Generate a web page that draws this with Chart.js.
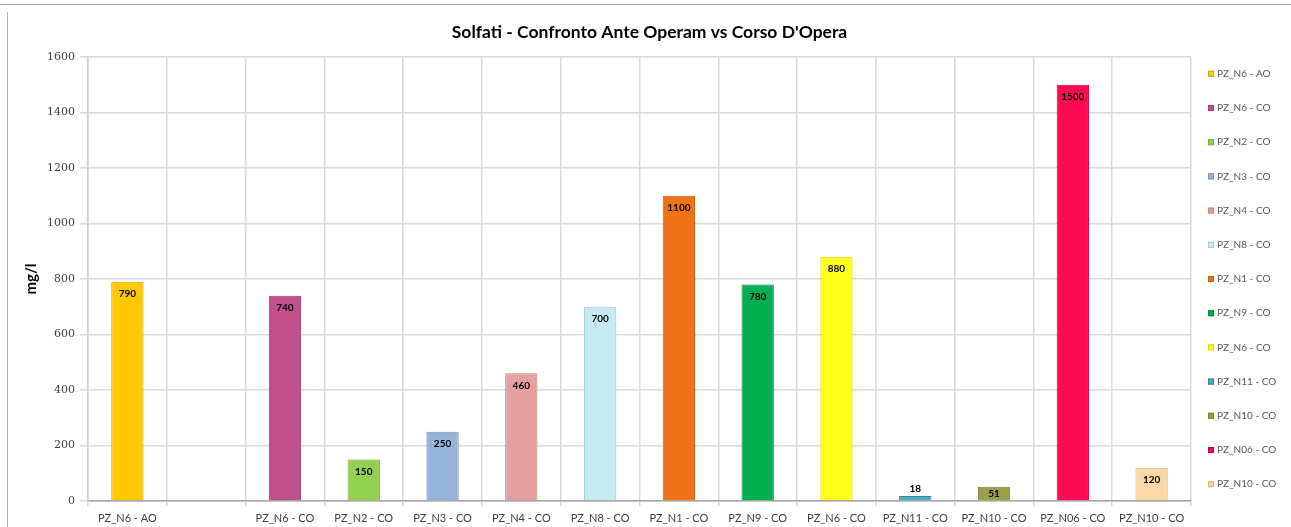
<!DOCTYPE html>
<html lang="it">
<head>
<meta charset="utf-8">
<title>Solfati - Confronto Ante Operam vs Corso D'Opera</title>
<script src="https://cdn.jsdelivr.net/npm/chart.js@4.4.1/dist/chart.umd.min.js"></script>
<style>
  body { margin: 0; background: #fff; }
  #bordoSopra { position: absolute; left: 0; top: 4px; width: 1291px; border-top: 1px solid #a6a6a6; }
  #contenitore { position: absolute; left: 7px; top: 12px; width: 1283px; height: 515px; border-left: 1px solid #b0b0b0; }
</style>
</head>
<body>
<div id="bordoSopra"></div>
<div id="contenitore"><canvas id="graficoSolfati" width="1283" height="515"></canvas></div>
<script>
const ctx = document.getElementById('graficoSolfati').getContext('2d');

// Categorie sull'asse X (la seconda è vuota come nell'originale)
const categorie = [
  'PZ_N6 - AO', '', 'PZ_N6 - CO', 'PZ_N2 - CO', 'PZ_N3 - CO', 'PZ_N4 - CO', 'PZ_N8 - CO',
  'PZ_N1 - CO', 'PZ_N9 - CO', 'PZ_N6 - CO', 'PZ_N11 - CO', 'PZ_N10 - CO', 'PZ_N06 - CO', 'PZ_N10 - CO'
];

// Solfati in mg/l, uno per categoria
const valori = [790, null, 740, 150, 250, 460, 700, 1100, 780, 880, 18, 51, 1500, 120];

// Serie della legenda e loro colori
const serie = [
  'PZ_N6 - AO', 'PZ_N6 - CO', 'PZ_N2 - CO', 'PZ_N3 - CO', 'PZ_N4 - CO', 'PZ_N8 - CO', 'PZ_N1 - CO',
  'PZ_N9 - CO', 'PZ_N6 - CO', 'PZ_N11 - CO', 'PZ_N10 - CO', 'PZ_N06 - CO', 'PZ_N10 - CO'
];
const colori = [
  '#FFC800', '#C2508F', '#92D050', '#95B3D7', '#E6A09E', '#C6E9F3', '#F07214',
  '#00B050', '#FFFF1E', '#4BACC6', '#9B9F4A', '#FF0A54', '#FBD8A4'
];
const bordi = [
  '#D9A800', '#9C3A70', '#76B03A', '#7393BA', '#C88480', '#A5CAD6', '#C95A0A',
  '#008A3E', '#D8D800', '#31859C', '#7A7E34', '#D00040', '#D9B680'
];

// Tick dell'asse Y
const tickY = [0, 200, 400, 600, 800, 1000, 1200, 1400, 1600];

// colore di ogni barra: la categoria vuota non ha serie
const coloriBarre = [];
const bordiBarre = [];
let s = 0;
valori.forEach(v => {
  if (v === null) { coloriBarre.push('rgba(0,0,0,0)'); bordiBarre.push('rgba(0,0,0,0)'); return; }
  coloriBarre.push(colori[s]);
  bordiBarre.push(bordi[s]);
  s++;
});

// etichette dei valori dentro le barre
const etichetteValori = {
  id: 'etichetteValori',
  afterDatasetsDraw(chart) {
    const c = chart.ctx;
    const meta = chart.getDatasetMeta(0);
    c.save();
    c.font = 'bold 10px Lato';
    c.fillStyle = '#000';
    c.textAlign = 'center';
    c.textBaseline = 'middle';
    meta.data.forEach((barra, i) => {
      const v = valori[i];
      if (v === null) return;
      const h = barra.base - barra.y;
      let y;
      if (h >= 24) y = barra.y + 12;
      else if (h >= 10) y = barra.y + h / 2;
      else y = barra.y - 7;
      c.fillText(String(v), barra.x, y);
    });
    c.restore();
  }
};

// legenda verticale a destra
const legendaLaterale = {
  id: 'legendaLaterale',
  afterDraw(chart) {
    const c = chart.ctx;
    const area = chart.chartArea;
    const x0 = area.right + 17;
    const passo = 34.2;
    const y0 = (area.top + area.bottom) / 2 - passo * (serie.length - 1) / 2;
    c.save();
    c.font = '10px Lato';
    c.textBaseline = 'middle';
    serie.forEach((nome, i) => {
      const y = y0 + i * passo;
      c.fillStyle = colori[i];
      c.fillRect(x0, y - 3, 6, 6);
      c.strokeStyle = bordi[i];
      c.lineWidth = 1;
      c.strokeRect(x0 + 0.5, y - 2.5, 5, 5);
      c.fillStyle = '#595959';
      c.fillText(nome, x0 + 9, y);
    });
    c.restore();
  }
};

let grafico = new Chart(ctx, {
  type: 'bar',
  data: {
    labels: categorie,
    datasets: [{
      label: 'Solfati (mg/l)',
      data: valori,
      backgroundColor: coloriBarre,
      borderColor: bordiBarre,
      borderWidth: 1,
      barPercentage: 1,
      categoryPercentage: 0.41
    }]
  },
  options: {
    responsive: false,
    animation: false,
    plugins: {
      legend: { display: false },
      tooltip: { enabled: false },
      title: {
        display: true,
        text: "Solfati - Confronto Ante Operam vs Corso D'Opera",
        color: '#000',
        font: { family: 'Lato', size: 17.5, weight: 'bold' },
        padding: { top: 10, bottom: 14 }
      }
    },
    scales: {
      x: {
        grid: { color: '#d9d9d9', lineWidth: 1.5, tickLength: 5, offset: true },
        border: { color: '#a6a6a6', width: 1.5 },
        ticks: {
          color: '#404040',
          font: { family: 'Lato', size: 11 },
          maxRotation: 0,
          autoSkip: false,
          padding: 6
        },
        afterFit(scale) { scale.height = 26; }
      },
      y: {
        min: 0,
        max: 1600,
        afterBuildTicks(scale) { scale.ticks = tickY.map(v => ({ value: v })); },
        grid: { color: '#d9d9d9', lineWidth: 1.5, tickLength: 8 },
        border: { color: '#cfcfcf', width: 1.5 },
        ticks: {
          color: '#404040',
          font: { family: 'DejaVu Serif', size: 11 },
          padding: 5,
          callback: v => String(v)
        },
        title: {
          display: true,
          text: 'mg/l',
          color: '#000',
          font: { family: 'Lato', size: 15, weight: 'bold' },
          padding: { top: 14, bottom: 0 }
        },
        afterFit(scale) { scale.width = 80; }
      },
      // asse vuoto a destra: riserva lo spazio della legenda
      spazioLegenda: {
        position: 'right',
        min: 0,
        max: 1,
        grid: { display: false },
        border: { display: false },
        ticks: { display: false },
        afterFit(scale) { scale.width = 100; }
      }
    }
  },
  plugins: [etichetteValori, legendaLaterale]
});
</script>
</body>
</html>
